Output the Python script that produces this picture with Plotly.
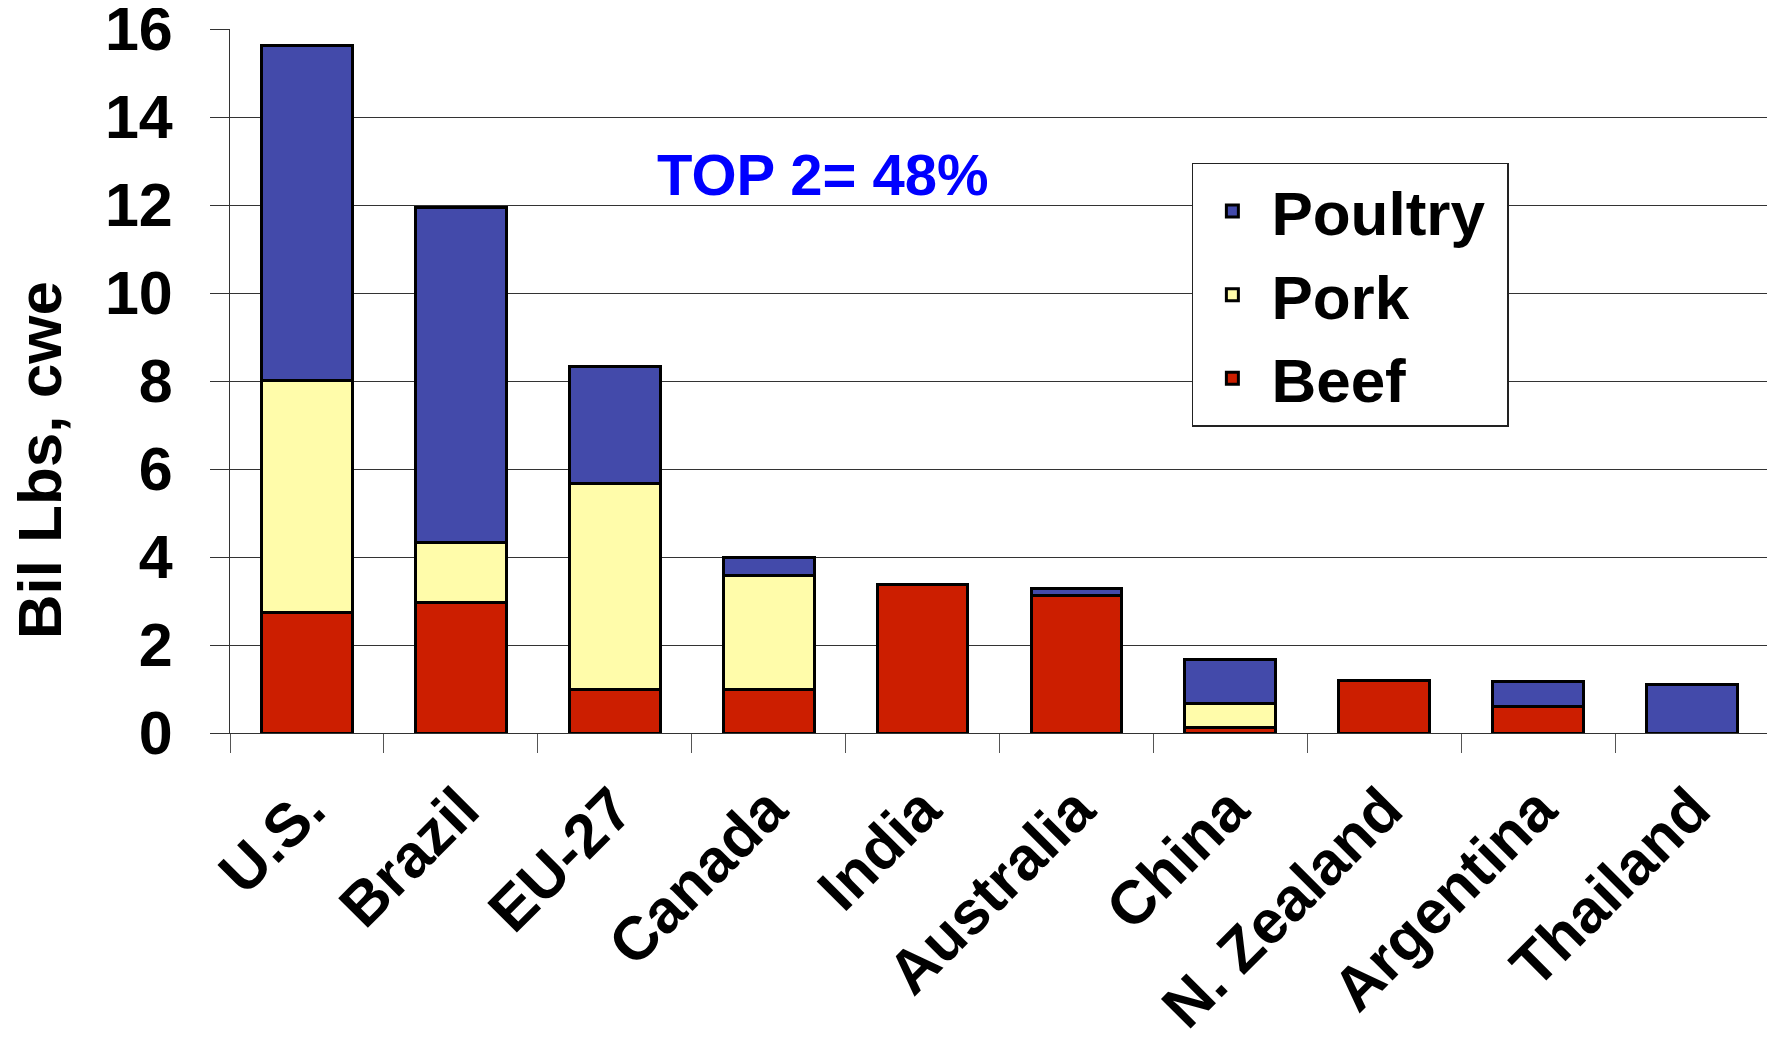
import plotly.graph_objects as go

countries = ["U.S.", "Brazil", "EU-27", "Canada", "India",
             "Australia", "China", "N. Zealand", "Argentina", "Thailand"]
beef = [2.74, 2.97, 0.99, 0.99, 3.38, 3.13, 0.12, 1.20, 0.61, None]
pork = [5.27, 1.37, 4.68, 2.60, None, None, 0.55, None, None, None]
poultry = [7.62, 7.61, 2.65, 0.41, None, 0.16, 1.00, None, 0.56, 1.11]

FONT = "Arial, Liberation Sans, sans-serif"

fig = go.Figure()
# trailing no-break space only pads the legend box a little on the right
for name, vals, color in (("Beef", beef, "#CC1E00"),
                          ("Pork", pork, "#FFFCAA"),
                          ("Poultry\u00a0", poultry, "#434AAA")):
    fig.add_trace(go.Bar(x=countries, y=vals, name=name,
                         marker=dict(color=color, line=dict(color="black", width=3))))

fig.add_annotation(text="TOP 2= 48%", xref="paper", yref="y",
                   x=0.385, y=12.7, xanchor="center", yanchor="middle",
                   showarrow=False,
                   font=dict(family=FONT, size=58, color="#0000FF", weight=700))
fig.add_annotation(text="Bil Lbs, cwe", xref="paper", yref="y",
                   x=-0.124, y=6.2, xanchor="center", yanchor="middle",
                   showarrow=False, textangle=-90,
                   font=dict(family=FONT, size=62, color="black", weight=700))

# page body adds an 8px margin, so the figure is sized/offset to fit the window
fig.update_layout(
    width=1767, height=1037,
    margin=dict(l=222, r=6, t=21, b=312, autoexpand=False),
    barmode="stack", bargap=0.41,
    plot_bgcolor="white", paper_bgcolor="white",
    font=dict(family=FONT, size=58, color="black", weight=700),
    legend=dict(x=0.625, y=0.81, xanchor="left", yanchor="top",
                traceorder="reversed", bgcolor="white",
                bordercolor="#222", borderwidth=1.5, itemwidth=68,
                font=dict(size=62)),
)
fig.update_xaxes(tickangle=-45, tickson="boundaries", ticks="outside",
                 ticklen=19, tickcolor="#555", showline=True, linecolor="#333",
                 linewidth=1, ticklabelstandoff=15, automargin=False,
                 tickfont=dict(size=61))
fig.update_yaxes(range=[0, 16], tickvals=list(range(0, 17, 2)),
                 ticks="outside", ticklen=19, ticklabeloverflow="allow",
                 tickcolor="#333", showgrid=True, gridcolor="#333", gridwidth=1,
                 showline=True, linecolor="#333", linewidth=1, mirror=True,
                 zeroline=False, ticklabelstandoff=25, automargin=False,
                 tickfont=dict(size=61))

fig.write_html("out.html")
